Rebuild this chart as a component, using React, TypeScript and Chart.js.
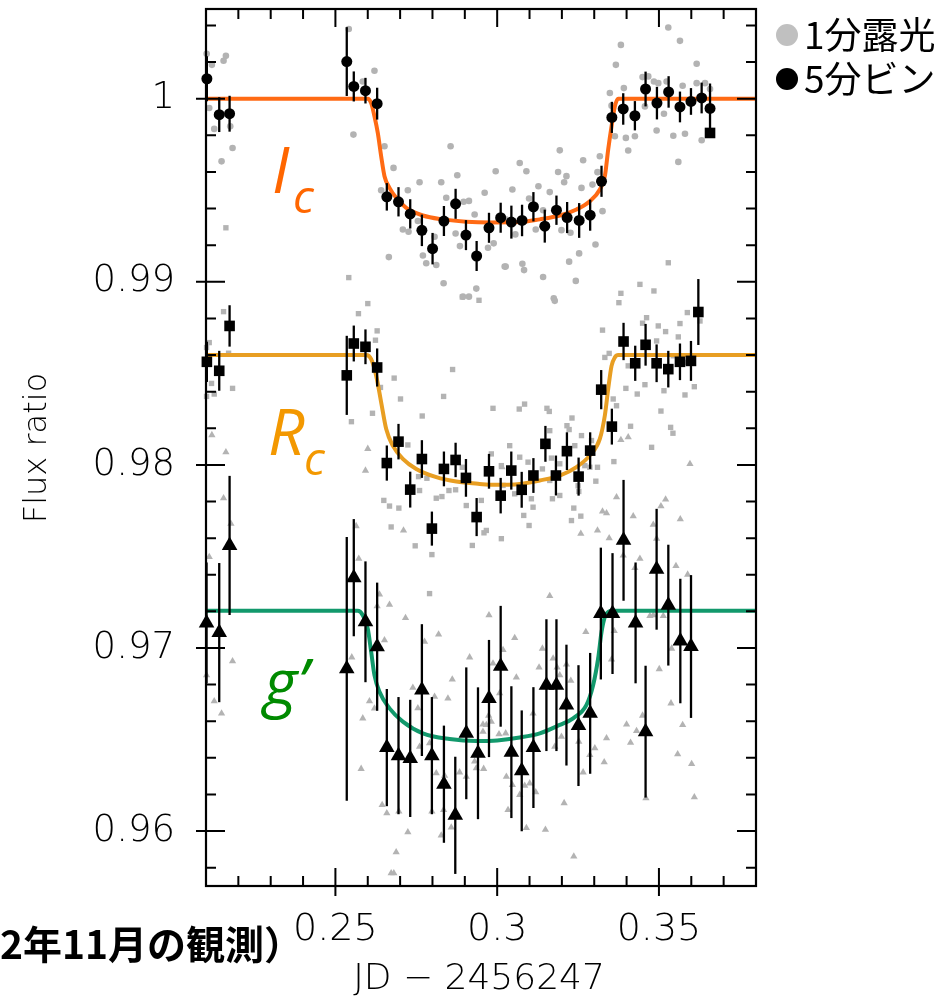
import React, { useEffect, useRef } from "react";
import { Chart, registerables } from "chart.js";
Chart.register(...registerables);

// ---------- axes ----------
const xMin = 0.21;
const xMax = 0.38;
const yMin = 0.957;
const yMax = 1.0049;
const xTickValues = [0.25, 0.3, 0.35];
const yTickValues = [0.96, 0.97, 0.98, 0.99, 1];
const xTitle = "JD − 2456247";
const yTitle = "Flux ratio";

// ---------- Ic (5-min bins) ----------
const icBinX = [0.21027, 0.21409, 0.21729, 0.25351, 0.25568, 0.25929, 0.2629, 0.26589, 0.2695, 0.27312, 0.27673, 0.28003, 0.28354, 0.28715, 0.29035, 0.29365, 0.29747, 0.30108, 0.30439, 0.30769, 0.3112, 0.31471, 0.31832, 0.32162, 0.32534, 0.32874, 0.33225, 0.33545, 0.33896, 0.34257, 0.34587, 0.34938, 0.35299, 0.3565, 0.3599, 0.3632, 0.36579];
const icBinY = [1.00109, 0.99913, 0.99918, 1.00203, 1.00067, 1.00044, 0.99973, 0.99464, 0.99437, 0.99371, 0.99281, 0.99181, 0.99332, 0.99426, 0.99255, 0.99141, 0.99295, 0.9935, 0.99326, 0.99335, 0.9941, 0.99304, 0.99391, 0.99351, 0.99335, 0.99364, 0.99549, 0.99898, 0.99944, 0.99907, 1.00053, 0.99976, 1.00037, 0.99955, 0.99985, 1.00004, 0.99947];
const icBinErr = [0.00123, 0.00095, 0.00098, 0.00188, 0.00082, 0.0007, 0.00087, 0.00075, 0.0008, 0.0008, 0.00086, 0.00086, 0.00082, 0.00082, 0.00082, 0.00082, 0.00082, 0.00082, 0.0009, 0.00086, 0.0008, 0.0009, 0.0008, 0.00085, 0.00095, 0.00085, 0.00085, 0.00085, 0.00086, 0.0008, 0.00095, 0.00089, 0.00086, 0.00084, 0.00073, 0.00084, 0.00136];

// ---------- Rc (5-min bins) ----------
const rcBinX = [0.21027, 0.21409, 0.21729, 0.25351, 0.25568, 0.25929, 0.2629, 0.26589, 0.2695, 0.27312, 0.27673, 0.27982, 0.28354, 0.28715, 0.29035, 0.29365, 0.29747, 0.30108, 0.30436, 0.30758, 0.3112, 0.31491, 0.31816, 0.32156, 0.32517, 0.32874, 0.33215, 0.33545, 0.33906, 0.34267, 0.34587, 0.34928, 0.35289, 0.3565, 0.3599, 0.36218];
const rcBinY = [0.98563, 0.98514, 0.98759, 0.98489, 0.98663, 0.98645, 0.98532, 0.9801, 0.98127, 0.97865, 0.98032, 0.97652, 0.97978, 0.98027, 0.97929, 0.97715, 0.97965, 0.97832, 0.97969, 0.97864, 0.97942, 0.98115, 0.97942, 0.98075, 0.97936, 0.98078, 0.98411, 0.98209, 0.98674, 0.98555, 0.98656, 0.98555, 0.98523, 0.98563, 0.98568, 0.98835];
const rcBinErr = [0.0011, 0.00109, 0.00113, 0.00216, 0.00098, 0.00095, 0.00104, 0.00096, 0.00097, 0.00098, 0.00103, 0.00093, 0.00095, 0.00094, 0.00103, 0.00104, 0.00095, 0.00097, 0.00104, 0.00098, 0.00095, 0.00098, 0.00109, 0.00103, 0.00104, 0.001, 0.00107, 0.00098, 0.00102, 0.00096, 0.00114, 0.00103, 0.001, 0.001, 0.00109, 0.0018];
const rcStrayX = [0.36579];
const rcStrayY = [0.99813];

// ---------- g' (5-min bins) ----------
const gBinX = [0.21017, 0.21409, 0.21729, 0.25351, 0.25568, 0.25929, 0.2629, 0.26589, 0.2695, 0.27312, 0.27673, 0.27982, 0.28354, 0.28705, 0.29045, 0.29407, 0.29747, 0.30108, 0.30439, 0.30759, 0.3112, 0.31522, 0.31832, 0.32141, 0.32513, 0.32874, 0.33204, 0.33565, 0.33906, 0.34278, 0.34587, 0.34928, 0.3529, 0.35661, 0.35991];
const gBinY = [0.97137, 0.97084, 0.9756, 0.96886, 0.97384, 0.97143, 0.97007, 0.96456, 0.96412, 0.96397, 0.9677, 0.96412, 0.96256, 0.96086, 0.96534, 0.96425, 0.96724, 0.969, 0.96431, 0.96329, 0.96456, 0.96797, 0.96797, 0.96688, 0.96576, 0.96643, 0.97188, 0.97188, 0.97588, 0.97137, 0.96543, 0.9743, 0.97234, 0.97038, 0.97008];
const gBinErr = [0.0033, 0.0038, 0.0038, 0.0072, 0.0032, 0.0033, 0.0035, 0.0032, 0.0032, 0.0032, 0.0036, 0.0032, 0.0032, 0.0032, 0.0036, 0.0036, 0.0032, 0.0033, 0.0036, 0.0033, 0.0033, 0.0036, 0.0036, 0.0033, 0.0033, 0.0033, 0.0036, 0.0033, 0.0033, 0.0033, 0.0036, 0.0033, 0.0033, 0.0034, 0.0039];

// ---------- model curves ----------
const icModelX = [0.21, 0.26, 0.26105, 0.26207, 0.2631, 0.26414, 0.26517, 0.26672, 0.26879, 0.27189, 0.27703, 0.28322, 0.29046, 0.298, 0.30696, 0.31316, 0.31935, 0.32451, 0.32864, 0.33173, 0.33328, 0.33431, 0.33535, 0.33638, 0.3374, 0.38];
const icModelY = [1, 1, 0.99976, 0.99904, 0.99813, 0.99686, 0.99577, 0.99513, 0.99459, 0.99404, 0.99362, 0.99341, 0.99328, 0.99324, 0.99326, 0.99341, 0.99362, 0.99395, 0.9944, 0.99504, 0.99577, 0.99722, 0.99849, 0.99958, 1, 1];
const rcModelX = [0.21, 0.2595, 0.26105, 0.2626, 0.26414, 0.2657, 0.26774, 0.27084, 0.27498, 0.28118, 0.28737, 0.29458, 0.299, 0.30696, 0.31316, 0.31935, 0.32451, 0.32864, 0.33173, 0.33328, 0.33431, 0.33535, 0.33638, 0.3374, 0.38];
const rcModelY = [0.986, 0.986, 0.98578, 0.98487, 0.98342, 0.98196, 0.98105, 0.98033, 0.97978, 0.97933, 0.97909, 0.97896, 0.97891, 0.97896, 0.97915, 0.97942, 0.97988, 0.98052, 0.98142, 0.9827, 0.98414, 0.98541, 0.98587, 0.986, 0.986];
const gModelX = [0.21, 0.2569, 0.25845, 0.26, 0.26105, 0.26207, 0.26362, 0.26672, 0.27084, 0.27703, 0.2853, 0.29356, 0.3, 0.30696, 0.31316, 0.31935, 0.32348, 0.32761, 0.32967, 0.33121, 0.33226, 0.33328, 0.33431, 0.33586, 0.38];
const gModelY = [0.97203, 0.97203, 0.97179, 0.97106, 0.96979, 0.96852, 0.96761, 0.9667, 0.96598, 0.96534, 0.96503, 0.96492, 0.96495, 0.96511, 0.96534, 0.9658, 0.96616, 0.96689, 0.96798, 0.96943, 0.97088, 0.9717, 0.97197, 0.97203, 0.97203];

// ---------- 1-min exposures ----------
const icRawX = [0.2102, 0.21182, 0.21543, 0.21615, 0.211, 0.21254, 0.21749, 0.21821, 0.21481, 0.25413, 0.25557, 0.25846, 0.26207, 0.26414, 0.26517, 0.26651, 0.26796, 0.27085, 0.27239, 0.2726, 0.27601, 0.27549, 0.27704, 0.27807, 0.28117, 0.28065, 0.28271, 0.28344, 0.2856, 0.28426, 0.28715, 0.28767, 0.28849, 0.28963, 0.29128, 0.29128, 0.29303, 0.29355, 0.29613, 0.29716, 0.29892, 0.29954, 0.30232, 0.28942, 0.35289, 0.3565, 0.36166, 0.33824, 0.33669, 0.33916, 0.33483, 0.33535, 0.33638, 0.33978, 0.3405, 0.34257, 0.34494, 0.3467, 0.34845, 0.34979, 0.35237, 0.35733, 0.36166, 0.36424, 0.36579, 0.34567, 0.34928, 0.35155, 0.35444, 0.35805, 0.36321, 0.35599, 0.30697, 0.30903, 0.31935, 0.31883, 0.32141, 0.3207, 0.32657, 0.33173, 0.33101, 0.33256, 0.32946, 0.32606, 0.31275, 0.31625, 0.3047, 0.30986, 0.31419, 0.31192, 0.31987, 0.32265, 0.32533, 0.33039, 0.30263, 0.30779, 0.30831, 0.31419, 0.32224, 0.3243, 0.31749, 0.30263, 0.30562, 0.3178];
const icRawY = [1.00245, 1.00185, 1.00207, 1.00234, 0.99949, 0.99835, 0.99849, 0.99731, 0.99658, 1.00381, 0.99804, 1.00094, 1.00153, 0.995, 0.9974, 0.99135, 0.99622, 0.99286, 0.995, 0.99273, 0.99544, 0.99332, 0.99144, 0.99101, 0.99092, 0.99246, 0.99544, 0.98992, 0.9974, 0.99459, 0.99264, 0.99582, 0.99195, 0.99437, 0.99442, 0.98919, 0.99368, 0.98963, 0.99486, 0.99186, 0.9921, 0.99604, 0.99083, 0.98919, 1.00389, 1.00316, 1.00191, 1.00294, 1.00185, 1.00058, 1.00031, 0.99962, 0.99795, 0.99786, 0.99717, 0.99795, 1.00118, 1.00122, 1.00094, 1.00085, 1.00094, 1.00071, 1.00085, 1.00085, 1.00053, 0.99958, 0.99826, 0.99918, 0.99798, 0.99809, 0.99773, 0.99655, 0.99649, 0.99604, 0.99718, 0.996, 0.99577, 0.99544, 0.99664, 0.99686, 0.99599, 0.99386, 0.99531, 0.99513, 0.99522, 0.9949, 0.99504, 0.99455, 0.99391, 0.99286, 0.99282, 0.99268, 0.99155, 0.99204, 0.99083, 0.99099, 0.99064, 0.99026, 0.9911, 0.99005, 0.9891, 0.99341, 0.99259, 0.98896];

const rcRawX = [0.25413, 0.21615, 0.35289, 0.34412, 0.21543, 0.211, 0.21017, 0.21171, 0.21254, 0.21017, 0.21821, 0.21698, 0.25712, 0.26001, 0.26238, 0.2629, 0.26393, 0.26816, 0.26146, 0.25495, 0.27012, 0.27683, 0.28344, 0.28622, 0.28922, 0.29438, 0.29871, 0.26496, 0.26672, 0.26961, 0.27239, 0.2757, 0.27601, 0.27828, 0.28117, 0.28292, 0.28509, 0.28715, 0.28922, 0.29045, 0.2951, 0.29819, 0.30181, 0.30129, 0.26723, 0.27466, 0.29592, 0.2791, 0.27982, 0.29232, 0.29665, 0.33824, 0.33762, 0.34845, 0.33256, 0.33462, 0.33328, 0.30682, 0.30847, 0.31538, 0.3161, 0.32312, 0.32157, 0.33689, 0.33586, 0.34123, 0.34494, 0.34618, 0.34979, 0.35206, 0.34928, 0.35598, 0.3565, 0.35877, 0.36269, 0.3405, 0.34308, 0.35444, 0.35784, 0.33978, 0.34329, 0.34567, 0.35155, 0.35805, 0.36094, 0.35062, 0.35361, 0.35433, 0.34773, 0.33607, 0.33101, 0.32399, 0.32224, 0.31625, 0.32606, 0.32915, 0.33049, 0.32864, 0.32709, 0.31935, 0.31677, 0.31398, 0.31625, 0.30954, 0.30697, 0.30387, 0.30129, 0.30542, 0.31058, 0.31109, 0.30821, 0.30986, 0.31708, 0.31935, 0.32523, 0.32368, 0.32585, 0.32296, 0.32502];
const rcRawY = [0.99023, 0.99295, 0.99104, 0.98986, 0.98837, 0.98668, 0.98641, 0.98445, 0.98387, 0.98374, 0.98418, 0.9861, 0.98826, 0.98881, 0.98681, 0.98732, 0.98423, 0.98474, 0.98282, 0.98236, 0.9836, 0.98267, 0.98374, 0.98521, 0.98917, 0.98899, 0.98309, 0.97806, 0.97775, 0.97764, 0.98109, 0.97936, 0.9786, 0.97927, 0.97818, 0.97827, 0.9786, 0.97864, 0.97987, 0.97778, 0.97806, 0.9806, 0.97888, 0.97597, 0.97661, 0.97558, 0.97629, 0.97297, 0.9751, 0.9756, 0.97642, 0.98937, 0.98886, 0.9895, 0.98736, 0.98609, 0.98587, 0.98305, 0.98332, 0.98309, 0.98292, 0.98256, 0.98214, 0.98323, 0.9836, 0.98211, 0.98774, 0.98804, 0.98759, 0.98728, 0.98677, 0.98699, 0.98772, 0.98832, 0.98786, 0.98541, 0.98568, 0.98596, 0.9856, 0.98418, 0.98387, 0.98438, 0.98405, 0.98382, 0.98427, 0.98294, 0.98205, 0.98173, 0.98096, 0.98018, 0.97987, 0.98105, 0.98193, 0.98187, 0.9816, 0.98133, 0.97911, 0.97987, 0.97996, 0.98006, 0.98037, 0.97978, 0.97915, 0.98015, 0.98042, 0.98105, 0.97996, 0.97842, 0.97815, 0.97769, 0.97724, 0.97669, 0.97815, 0.97833, 0.97855, 0.97764, 0.9772, 0.97696, 0.97886];

const gRawX = [0.21543, 0.2177, 0.211, 0.21017, 0.21254, 0.21481, 0.21821, 0.2564, 0.25722, 0.26362, 0.2629, 0.26672, 0.27167, 0.27755, 0.28189, 0.28612, 0.28478, 0.28065, 0.27394, 0.27549, 0.26053, 0.25846, 0.26517, 0.25506, 0.29149, 0.29747, 0.29871, 0.30077, 0.29737, 0.29561, 0.27105, 0.30181, 0.26207, 0.27601, 0.2791, 0.28117, 0.28375, 0.28839, 0.29045, 0.29303, 0.29355, 0.29582, 0.29561, 0.29665, 0.29819, 0.30057, 0.30263, 0.30284, 0.30335, 0.25795, 0.26445, 0.26589, 0.26961, 0.27239, 0.26878, 0.26723, 0.26806, 0.28271, 0.28581, 0.28344, 0.27982, 0.33689, 0.34205, 0.33256, 0.3338, 0.33101, 0.32585, 0.33462, 0.33896, 0.34412, 0.34257, 0.34825, 0.34928, 0.35062, 0.35206, 0.3566, 0.35526, 0.35887, 0.34825, 0.35134, 0.34721, 0.33617, 0.33535, 0.3274, 0.31625, 0.31398, 0.31295, 0.30593, 0.30542, 0.31729, 0.31852, 0.31935, 0.32276, 0.32141, 0.3501, 0.35392, 0.35372, 0.34494, 0.33999, 0.35733, 0.31109, 0.31987, 0.3178, 0.32523, 0.32864, 0.33019, 0.3338, 0.33308, 0.32657, 0.34308, 0.34123, 0.35578, 0.36011, 0.34598, 0.36094, 0.32069, 0.30903, 0.31491, 0.32368, 0.3047, 0.30697, 0.30851, 0.31006, 0.31192, 0.21182, 0.21615, 0.26001, 0.25929, 0.3015, 0.33824, 0.3405, 0.35959];
const gRawY = [0.97818, 0.97679, 0.97497, 0.96852, 0.9671, 0.96643, 0.96928, 0.97666, 0.97488, 0.97293, 0.97228, 0.97237, 0.97164, 0.97034, 0.97074, 0.96828, 0.96725, 0.96734, 0.96783, 0.96671, 0.9671, 0.96616, 0.97043, 0.96949, 0.96949, 0.97179, 0.96916, 0.96753, 0.96631, 0.96583, 0.97642, 0.96989, 0.9667, 0.96461, 0.9648, 0.96316, 0.96303, 0.96321, 0.96297, 0.9638, 0.96343, 0.9634, 0.96543, 0.9658, 0.96598, 0.96529, 0.96534, 0.96297, 0.96116, 0.9634, 0.96143, 0.96098, 0.96107, 0.95994, 0.95885, 0.9577, 0.9577, 0.95976, 0.9602, 0.96116, 0.96107, 0.97824, 0.9772, 0.97746, 0.97736, 0.97642, 0.97624, 0.976, 0.97506, 0.97488, 0.97437, 0.97673, 0.97597, 0.97775, 0.97811, 0.97703, 0.97448, 0.97401, 0.97179, 0.97175, 0.97175, 0.97093, 0.96938, 0.97088, 0.97284, 0.96997, 0.96894, 0.96839, 0.97055, 0.96943, 0.96894, 0.96852, 0.96821, 0.9691, 0.96885, 0.96997, 0.96698, 0.96631, 0.96583, 0.9658, 0.96643, 0.96516, 0.96461, 0.96489, 0.96416, 0.96453, 0.96507, 0.96376, 0.96321, 0.96547, 0.96483, 0.9642, 0.96367, 0.9618, 0.96185, 0.96153, 0.96017, 0.96008, 0.95862, 0.96252, 0.96198, 0.96248, 0.96261, 0.96212, 0.98163, 0.98069, 0.98088, 0.97969, 0.97988, 0.98136, 0.98151, 0.98005];

// ---------- labels ----------
const bandLabels = [
  { main: "I", sub: "c", color: "#FF6600" },
  { main: "R", sub: "c", color: "#F39800" },
  { main: "g’", sub: "", color: "#008A00" },
];
const legendLabels = ["1分露光", "5分ビン"];
const footnote = "2年11月の観測）";

const toPts = (xs: number[], ys: number[]) => xs.map((x, i) => ({ x, y: ys[i] }));

const GREY = "#B3B3B3";
const TICK_FONT = "'DejaVu Sans', sans-serif";

const errorBarPlugin = {
  id: "errorBars",
  beforeDatasetDraw(chart: any, args: any) {
    const ds = chart.data.datasets[args.index];
    if (!ds.errs) return;
    const { ctx, scales } = chart;
    ctx.save();
    ctx.strokeStyle = "#000";
    ctx.lineWidth = 2.3;
    ds.data.forEach((p: any, i: number) => {
      const e = ds.errs[i];
      const px = scales.x.getPixelForValue(p.x);
      ctx.beginPath();
      ctx.moveTo(px, scales.y.getPixelForValue(p.y - e));
      ctx.lineTo(px, scales.y.getPixelForValue(p.y + e));
      ctx.stroke();
    });
    ctx.restore();
  },
};

const decorPlugin = {
  id: "decor",
  afterDraw(chart: any) {
    const { ctx, chartArea: a, scales } = chart;
    const xs = scales.x;
    const ys = scales.y;
    ctx.save();
    ctx.strokeStyle = "#000";
    ctx.lineWidth = 2.2;
    ctx.strokeRect(a.left, a.top, a.right - a.left, a.bottom - a.top);
    ctx.lineWidth = 2;
    ctx.beginPath();
    for (let i = 21; i <= 38; i++) {
      const px = xs.getPixelForValue(i / 100);
      const major = i % 5 === 0;
      const inL = major ? 18 : 10;
      ctx.moveTo(px, a.bottom + (major ? 10 : 0));
      ctx.lineTo(px, a.bottom - inL);
      ctx.moveTo(px, a.top);
      ctx.lineTo(px, a.top + inL);
    }
    for (let i = 958; i <= 1004; i += 2) {
      const py = ys.getPixelForValue(i / 1000);
      const major = i % 10 === 0;
      const inL = major ? 19 : 10;
      ctx.moveTo(a.left - (major ? 10 : 0), py);
      ctx.lineTo(a.left + inL, py);
      ctx.moveTo(a.right, py);
      ctx.lineTo(a.right - inL, py);
    }
    ctx.stroke();

    // axis titles
    ctx.fillStyle = "#000";
    ctx.font = `200 36px ${TICK_FONT}`;
    ctx.textAlign = "center";
    ctx.textBaseline = "middle";
    ctx.fillText(xTitle, 479, 980);
    ctx.save();
    ctx.translate(38, 448);
    ctx.rotate(-Math.PI / 2);
    ctx.font = `200 32px ${TICK_FONT}`;
    ctx.fillText(yTitle, 0, 0);
    ctx.restore();

    // band labels
    const pos = [
      { x: 272, y: 193, sx: 293, sy: 213 },
      { x: 268, y: 455, sx: 304, sy: 475 },
      { x: 264, y: 705, sx: 0, sy: 0 },
    ];
    ctx.textAlign = "left";
    ctx.textBaseline = "alphabetic";
    bandLabels.forEach((b, i) => {
      ctx.fillStyle = b.color;
      ctx.font = "italic 64px 'Open Sans', 'Noto Sans', sans-serif";
      ctx.fillText(b.main, pos[i].x, pos[i].y);
      if (b.sub) {
        ctx.font = "italic 46px 'Open Sans', 'Noto Sans', sans-serif";
        ctx.fillText(b.sub, pos[i].sx, pos[i].sy);
      }
    });

    // legend
    ctx.fillStyle = "#C0C0C0";
    ctx.beginPath();
    ctx.arc(787, 35, 11, 0, Math.PI * 2);
    ctx.fill();
    ctx.fillStyle = "#000";
    ctx.beginPath();
    ctx.arc(787, 79, 11, 0, Math.PI * 2);
    ctx.fill();
    ctx.font = "37px 'Noto Sans CJK JP', sans-serif";
    ctx.textBaseline = "middle";
    ctx.fillText(legendLabels[0], 804, 35);
    ctx.fillText(legendLabels[1], 804, 79);

    // footnote
    ctx.font = "bold 39px 'Noto Sans CJK JP', sans-serif";
    ctx.fillText(footnote, 0, 944);
    ctx.restore();
  },
};

export default function App() {
  const ref = useRef<HTMLCanvasElement>(null);
  useEffect(() => {
    const canvas = ref.current;
    if (!canvas) return;
    const binBase = { showLine: false, clip: false as any, pointBorderWidth: 0, pointHoverRadius: 0 };
    const rawBase = { showLine: false, clip: false as any, pointBorderWidth: 0, backgroundColor: GREY, pointBackgroundColor: GREY };
    const lineBase = { showLine: true, pointRadius: 0, borderWidth: 4, fill: false, cubicInterpolationMode: "monotone" as const };
    const chart = new Chart(canvas, {
      type: "scatter",
      data: {
        datasets: [
          { ...binBase, data: toPts(icBinX, icBinY), errs: icBinErr, pointStyle: "circle", pointRadius: 5.5, pointBackgroundColor: "#000" } as any,
          { ...binBase, data: toPts(rcBinX, rcBinY), errs: rcBinErr, pointStyle: "rect", pointRadius: 7.5, pointBackgroundColor: "#000" } as any,
          { ...binBase, data: toPts(rcStrayX, rcStrayY), pointStyle: "rect", pointRadius: 7.5, pointBackgroundColor: "#000" } as any,
          { ...binBase, data: toPts(gBinX, gBinY), errs: gBinErr, pointStyle: "triangle", pointRadius: 9, pointBackgroundColor: "#000" } as any,
          { ...lineBase, data: toPts(icModelX, icModelY), borderColor: "#FF6A14" } as any,
          { ...lineBase, data: toPts(rcModelX, rcModelY), borderColor: "#E89E22" } as any,
          { ...lineBase, data: toPts(gModelX, gModelY), borderColor: "#12996C" } as any,
          { ...rawBase, data: toPts(icRawX, icRawY), pointStyle: "circle", pointRadius: 3.3 } as any,
          { ...rawBase, data: toPts(rcRawX, rcRawY), pointStyle: "rect", pointRadius: 3.8 } as any,
          { ...rawBase, data: toPts(gRawX, gRawY), pointStyle: "triangle", pointRadius: 4.2 } as any,
        ],
      },
      options: {
        animation: false,
        responsive: false,
        maintainAspectRatio: false,
        events: [],
        layout: { padding: { left: 0, top: 9, right: 189, bottom: 0 } },
        plugins: { legend: { display: false }, tooltip: { enabled: false } },
        scales: {
          x: {
            type: "linear",
            position: "bottom",
            min: xMin,
            max: xMax,
            afterBuildTicks: (s: any) => {
              s.ticks = xTickValues.map((v) => ({ value: v }));
            },
            afterFit: (s: any) => {
              s.height = 110;
              s.paddingLeft = 0;
              s.paddingRight = 0;
            },
            grid: { display: false, drawTicks: false },
            border: { display: false },
            ticks: {
              padding: 21,
              color: "#000",
              autoSkip: false,
              maxRotation: 0,
              font: { family: TICK_FONT, size: 38, weight: "200" as any },
              callback: (v: any) => String(v),
            },
          },
          y: {
            type: "linear",
            position: "left",
            min: yMin,
            max: yMax,
            afterBuildTicks: (s: any) => {
              s.ticks = yTickValues.map((v) => ({ value: v }));
            },
            afterFit: (s: any) => {
              s.width = 206;
              s.paddingTop = 0;
              s.paddingBottom = 0;
            },
            grid: { display: false, drawTicks: false },
            border: { display: false },
            ticks: {
              padding: 31,
              color: "#000",
              autoSkip: false,
              font: { family: TICK_FONT, size: 37, weight: "200" as any },
              callback: (v: any) => String(v),
            },
          },
        },
      },
      plugins: [errorBarPlugin, decorPlugin],
    } as any);
    return () => chart.destroy();
  }, []);
  return (
    <div style={{ position: "absolute", left: 0, top: 0, width: 945, height: 996, background: "#fff" }}>
      <canvas ref={ref} width={945} height={996} style={{ display: "block", width: 945, height: 996 }} />
    </div>
  );
}
